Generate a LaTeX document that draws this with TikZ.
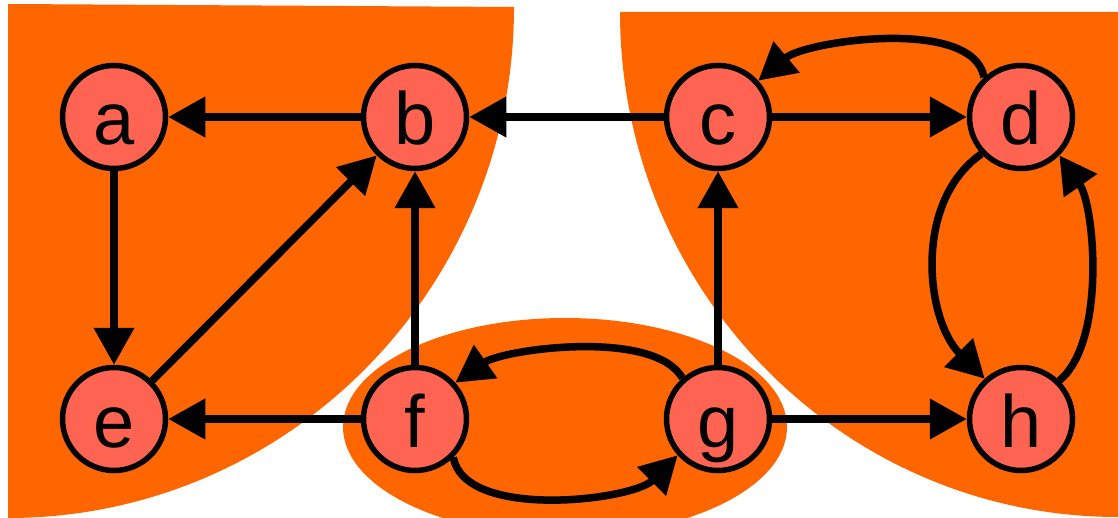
\documentclass[tikz,border=0pt]{standalone}
\usepackage{fontspec}
\setmainfont{Liberation Sans}
\usetikzlibrary{arrows.meta}
\definecolor{bgorange}{RGB}{255,102,0}
\definecolor{nodered}{RGB}{255,99,82}
\tikzset{
  vtx/.style={circle, draw=black, line width=5.5pt, fill=nodered, minimum size=103pt, inner sep=0pt,
    text height=56pt, text depth=0pt, font=\fontsize{74}{74}\selectfont},
  edge/.style={line width=7.5pt, -{Triangle[length=37pt,width=39pt]}},
  region/.style={fill=bgorange}
}
\begin{document}
\begin{tikzpicture}[x=1pt,y=1pt]
\useasboundingbox (0,0) rectangle (1118,-518);
\clip (0,0) rectangle (1118,-518);
% background regions
\fill[region] (8,-4) -- (514,-7) arc[start angle=0, end angle=-90, x radius=506, y radius=511] -- cycle;
\fill[region] (620,-12) -- (1118,-12) -- (1118,-517) arc[start angle=-90, end angle=-180, x radius=498, y radius=505] -- cycle;
\fill[region] (565,-427) ellipse[x radius=222, y radius=109];
% nodes
\node[vtx] (a) at (114,-117) {a};
\node[vtx] (b) at (415,-117) {b};
\node[vtx] (c) at (718,-117) {c};
\node[vtx] (d) at (1021,-117) {d};
\node[vtx] (e) at (114,-419) {e};
\node[vtx] (f) at (415,-419) {f};
\node[vtx] (g) at (718,-419) {g};
\node[vtx] (h) at (1021,-419) {h};
% straight edges
\draw[edge] (b) -- (a);
\draw[edge] (c) -- (b);
\draw[edge] (c) -- (d);
\draw[edge] (a) -- (e);
\draw[edge] (e) -- (b);
\draw[edge] (f) -- (b);
\draw[edge] (g) -- (c);
\draw[edge] (f) -- (e);
\draw[edge] (g) -- (h);
% curved edges
\draw[edge] (d.133) to[out=100, in=40, looseness=0.7] (c.42);
\draw[edge] (d.223) to[out=215, in=135, looseness=0.95] (h.132);
\draw[edge] (h.45) to[out=40, in=-55, looseness=0.7] (d.-45);
\draw[edge] (g.131) to[out=120, in=35, looseness=0.65] (f.42);
\draw[edge] (f.-45) to[out=-80, in=-135, looseness=0.73] (g.-138);
\end{tikzpicture}
\end{document}
